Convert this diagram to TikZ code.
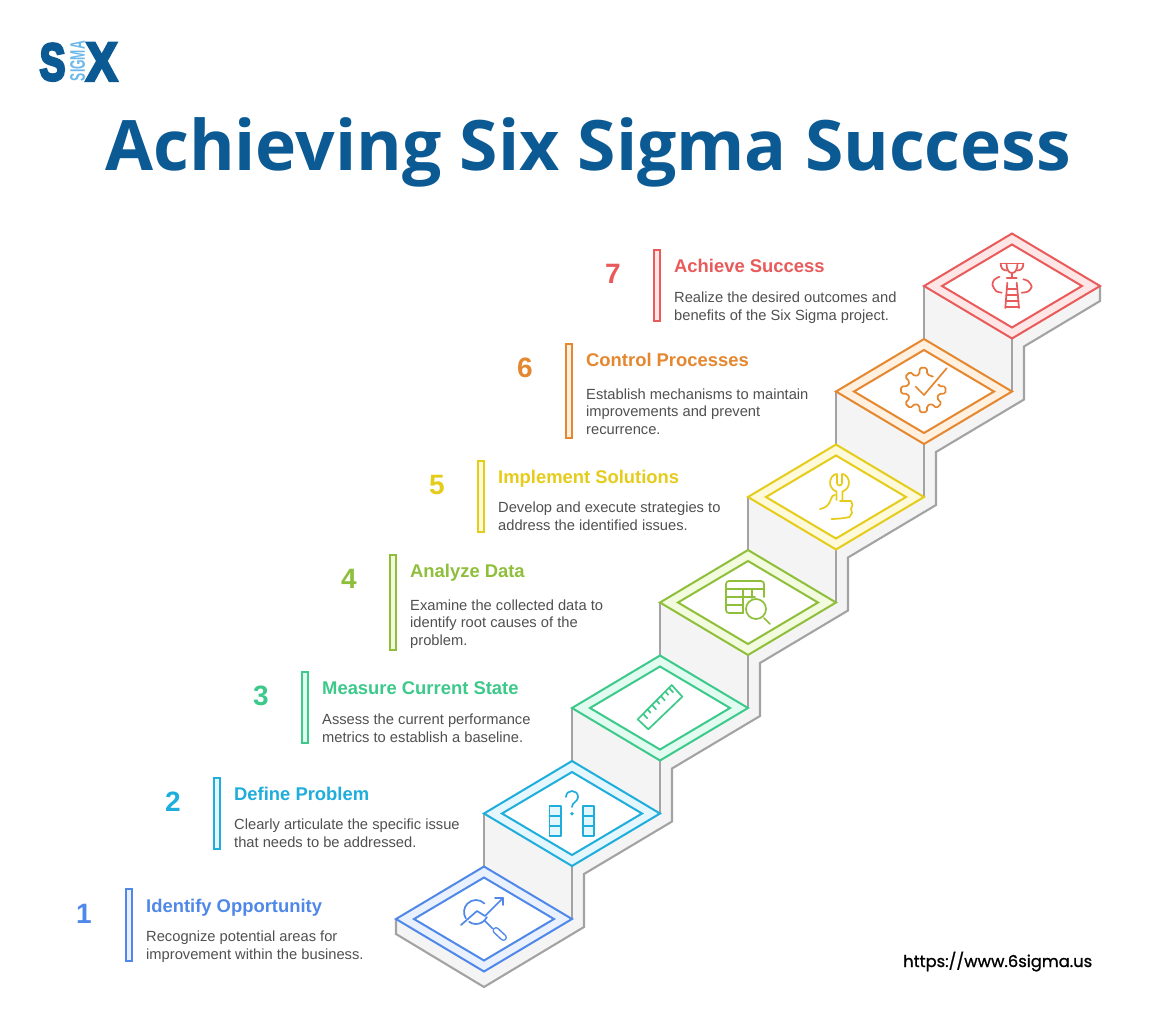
\documentclass[tikz,border=0pt]{standalone}
\usepackage{fontspec}
\usepackage{graphicx}
\setmainfont{Liberation Sans}
\newfontfamily\logofont[FakeBold=6]{Liberation Sans Bold}
\newfontfamily\titlefont{Open Sans}
\newfontfamily\urlfont[FakeBold=1]{Poppins}
\usetikzlibrary{calc}
\definecolor{cA}{HTML}{4F88E8}\definecolor{fA}{HTML}{EAF1FE}
\definecolor{cB}{HTML}{1FADDC}\definecolor{fB}{HTML}{E4F7FE}
\definecolor{cC}{HTML}{3CC98A}\definecolor{fC}{HTML}{E2FBF0}
\definecolor{cD}{HTML}{8FBF3A}\definecolor{fD}{HTML}{F2FBDD}
\definecolor{cE}{HTML}{E6CC1A}\definecolor{fE}{HTML}{FEF9D8}
\definecolor{cF}{HTML}{E5872F}\definecolor{fF}{HTML}{FFF0E0}
\definecolor{cG}{HTML}{E95A5A}\definecolor{fG}{HTML}{FFE6E6}
\definecolor{titleblue}{HTML}{0B5A94}
\definecolor{logolight}{HTML}{6CB8EA}
\definecolor{riser}{HTML}{F4F4F4}
\definecolor{riserline}{HTML}{A3A3A3}
\definecolor{bodytext}{HTML}{505050}
\tikzset{
  numlabel/.style={anchor=base,inner sep=0pt,font=\fontsize{28}{30}\selectfont\bfseries},
  headlabel/.style={anchor=base west,inner sep=0pt,font=\fontsize{18.4}{20}\selectfont\bfseries},
  bodylabel/.style={anchor=base west,inner sep=0pt,align=left,text=bodytext,font=\fontsize{14.7}{17.5}\selectfont},
  sidebar/.style={line width=2pt},
  iconline/.style={line width=1.7pt,line cap=round,line join=round},
  greyline/.style={draw=riserline,line width=2.1pt,line join=miter},
}
\newcommand{\stepitem}[9]{%
  \node[numlabel,text=c#2] (num#1) at (#4,#6+11) {#3};
  \node[headlabel,text=c#2] (head#1) at (#5,#6) {#9};
  \draw[sidebar,draw=c#2,fill=f#2] (#5-20,#7) rectangle (#5-14.5,#8);
}
\begin{document}
\begin{tikzpicture}[x=1pt,y=-1pt]
\useasboundingbox (0,0) rectangle (1173,1031);
\fill[white] (0,0) rectangle (1173,1031);
% logo
\node[anchor=base west,inner sep=0pt,text=titleblue] (logoS) at (39.5,80) {\scalebox{0.74}[1]{\logofont\fontsize{52}{52}\selectfont S}};
\node[anchor=base west,inner sep=0pt,text=titleblue] (logoX) at (86,80.5) {\scalebox{0.86}[1]{\logofont\fontsize{54}{54}\selectfont X}};
\node[anchor=base west,inner sep=0pt,text=logolight] (logoSigma) at (70,81) {\rotatebox{90}{\scalebox{0.58}[1]{\bfseries\fontsize{21}{21}\selectfont SIGMA}}};
% title
\node[anchor=base west,inner sep=0pt,text=titleblue] (title) at (105,170) {\resizebox{966pt}{!}{\titlefont\bfseries\fontsize{76}{80}\selectfont Achieving Six Sigma Success}};
% staircase body
\fill[riser]
 (396,919)--(396,934)--(484,987)--(584,927)--(584,874)--(672,821.5)--(672,768.5)--(760,716)--(760,663)--(848,610.5)--(848,557.5)--(936,505)--(936,452)--(1024,399.5)--(1024,346.5)--(1100,301)--(1100,286)
 --(1012,233)--(924,286)--(924,338.5)--(836,391.5)--(836,444)--(748,497)--(748,549.5)--(660,602.5)--(660,655)--(572,708)--(572,761)--(484,813)--(484,866.5)--cycle;
\draw[greyline]
 (396,919)--(396,934)--(484,987)--(584,927)--(584,874)--(672,821.5)--(672,768.5)--(760,716)--(760,663)--(848,610.5)--(848,557.5)--(936,505)--(936,452)--(1024,399.5)--(1024,346.5)--(1100,301)--(1100,286);
\foreach \i in {1,...,6}{
  \pgfmathsetmacro{\xl}{484+88*(\i-1)}
  \pgfmathsetmacro{\yt}{813-105.5*(\i-1)}
  \draw[greyline] (\xl,\yt) -- ++(0,53);
  \draw[greyline] (\xl+88,\yt+53) -- ++(0,53);
}
% platforms
\foreach \i/\c in {1/A,2/B,3/C,4/D,5/E,6/F,7/G}{
  \pgfmathsetmacro{\cx}{484+88*(\i-1)}
  \pgfmathsetmacro{\cy}{919-105.5*(\i-1)}
  \draw[draw=c\c,fill=f\c,line width=2pt,line join=miter] (\cx-88,\cy)--(\cx,\cy-52.5)--(\cx+88,\cy)--(\cx,\cy+52.5)--cycle;
  \draw[draw=c\c,fill=white,line width=2pt,line join=miter] (\cx-70,\cy)--(\cx,\cy-41.5)--(\cx+70,\cy)--(\cx,\cy+41.5)--cycle;
}
% text blocks
\stepitem{1}{A}{1}{84}{146}{912}{889}{961}{Identify Opportunity}
\node[bodylabel] (body1) at (146,959) {Recognize potential areas for\\improvement within the business.};
\stepitem{2}{B}{2}{173}{234}{800}{778}{849}{Define Problem}
\node[bodylabel] (body2) at (234,847) {Clearly articulate the specific issue\\that needs to be addressed.};
\stepitem{3}{C}{3}{261}{322}{694}{672}{743}{Measure Current State}
\node[bodylabel] (body3) at (322,742) {Assess the current performance\\metrics to establish a baseline.};
\stepitem{4}{D}{4}{349}{410}{577}{555}{650}{Analyze Data}
\node[bodylabel] (body4) at (410,645) {Examine the collected data to\\identify root causes of the\\problem.};
\stepitem{5}{E}{5}{437}{498}{483}{461}{532}{Implement Solutions}
\node[bodylabel] (body5) at (498,530) {Develop and execute strategies to\\address the identified issues.};
\stepitem{6}{F}{6}{525}{586}{366}{344}{438}{Control Processes}
\node[bodylabel] (body6) at (586,434) {Establish mechanisms to maintain\\improvements and prevent\\recurrence.};
\stepitem{7}{G}{7}{613}{674}{272}{250}{321}{Achieve Success}
\node[bodylabel] (body7) at (674,320) {Realize the desired outcomes and\\benefits of the Six Sigma project.};
% url
\node[anchor=base west,inner sep=0pt,text=black] (url) at (903,967) {\resizebox{189pt}{!}{\urlfont https://www.6sigma.us}};
% icon 1
\begin{scope}[iconline,draw=cA]
\draw (461,925)--(477,911)--(485,916)--(503,898);
\draw (495,898)--(503,898)--(503,905);
\draw ($(476,912)+(-45:12)$) arc[start angle=-45,end angle=-212,radius=12];
\draw ($(476,912)+(125:12)$) arc[start angle=125,end angle=25,radius=12];
\draw (484.5,920.5)--(492.5,928.5);
\draw[line width=7pt,draw=cA] (496,930.5)--(503.5,937.5);
\draw[line width=4pt,draw=white] (496,930.5)--(503.5,937.5);
\end{scope}
% icon 2
\begin{scope}[iconline,draw=cB]
\foreach \x in {549.5,583}{
  \draw[fill=fB] (\x,806) rectangle (\x+11.3,836);
  \draw (\x,816)--(\x+11.3,816) (\x,826)--(\x+11.3,826);
}
\draw (566,797) .. controls (566,789) and (578,789) .. (578,797) .. controls (578,802) and (572,802) .. (572,807);
\fill[cB] (572,813.7) circle[radius=1.8];
\end{scope}
% icon 3
\begin{scope}[iconline,draw=cC]
\coordinate (ra) at (637.7,719.3);
\coordinate (rb) at (671.7,685);
\draw (ra)--(rb)--(682.3,696.7)--(648.3,729.3)--cycle;
\foreach \t/\l in {0.16/6,0.29/4.5,0.42/6,0.55/4.5,0.68/6,0.81/4.5,0.92/6}{
  \draw ($(ra)!\t!(rb)$) -- ++(0.67*\l,0.74*\l);
}
\end{scope}
% icon 4
\begin{scope}[iconline,draw=cD]
\draw (764,597)--(764,584) arc[start angle=0,end angle=-90,radius=3]--(729,581) arc[start angle=-90,end angle=-180,radius=3]--(726,610) arc[start angle=180,end angle=90,radius=3]--(743,613);
\draw (726,589)--(764,589);
\draw (726,597)--(755,597);
\draw (726,605)--(743,605);
\draw (743,589)--(743,613);
\draw (752,589)--(752,598);
\draw[fill=white] (756,609) circle[radius=10];
\draw (764,618)--(770,624);
\end{scope}
% icon 5
\begin{scope}[iconline,draw=cE]
\draw (836,474) .. controls (829,476) and (827,488) .. (836.5,491.5)--(836.5,500);
\draw (843,474) .. controls (850,476) and (852,488) .. (842.5,491.5)--(842.5,501);
\draw (837,474)--(837,483) arc[start angle=180,end angle=0,radius=2.5]--(842,474);
\draw (820,509) .. controls (826,508) and (829,505) .. (831,499) .. controls (832,496) and (833,495) .. (835,495);
\draw (840,501)--(851,501)--(852.5,505)--(851,509)--(852,513)--(849.5,517) .. controls (845,518) and (838,519) .. (831.5,519);
\end{scope}
% icon 6
\begin{scope}[iconline,draw=cF,shift={(923.3,390)}]
\draw[rounded corners=1.6pt]
 (-17:16)--(-14:16)--(-9:22.5)--(9:22.5)--(14:16)
 --(31:16)--(36:22.5)--(54:22.5)--(59:16)
 --(76:16)--(81:22.5)--(99:22.5)--(104:16)
 --(121:16)--(126:22.5)--(144:22.5)--(149:16)
 --(166:16)--(171:22.5)--(189:22.5)--(194:16)
 --(211:16)--(216:22.5)--(234:22.5)--(239:16)
 --(256:16)--(261:22.5)--(279:22.5)--(284:16)
 --(306:16.5);
\draw (-7.6,-3.3)--(0.7,5)--(23.4,-21.8);
\end{scope}
% icon 7
\begin{scope}[iconline,draw=cG]
\draw (1000.7,263.5)--(1023.3,263.5);
\draw (1006.5,263.5) .. controls (1006.5,270) and (1009,273) .. (1012,273) .. controls (1015,273) and (1017.5,270) .. (1017.5,263.5);
\draw (1012,273)--(1012,277.5);
\draw (1006.7,277.7)--(1016.7,277.7);
\draw (1000.7,263.5) .. controls (1000.5,268) and (1003,270.5) .. (1007,270.5);
\draw (1023.3,263.5) .. controls (1023.5,268) and (1021,270.5) .. (1017.5,270.5);
\draw (1007.3,282.7)--(1005.3,308);
\draw (1016.7,282.7)--(1019,308);
\foreach \y/\a/\b in {289/1006.8/1017.3,295/1006.3/1017.9,301/1005.9/1018.4,307/1005.4/1018.9}{\draw (\a,\y)--(\b,\y);}
\draw plot[smooth] coordinates {(999.3,276.7) (994,280) (992.5,285) (996,291) (1001.7,292.7)};
\draw plot[smooth] coordinates {(1023.3,279.3) (1028,281) (1031.7,286.7) (1028,291.5) (1021.7,292.7)};
\end{scope}
\end{tikzpicture}
\end{document}
